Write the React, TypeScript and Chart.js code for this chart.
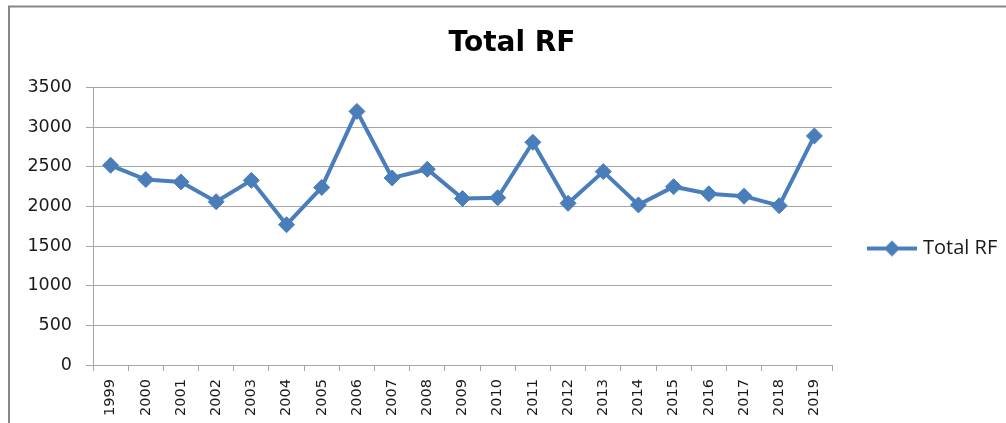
import React, { useEffect, useRef } from "react";
import { Chart, registerables } from "chart.js";

Chart.register(...registerables);

const years = ["1999","2000","2001","2002","2003","2004","2005","2006","2007","2008","2009","2010","2011","2012","2013","2014","2015","2016","2017","2018","2019"];
const totalRF = [2520,2340,2310,2060,2330,1770,2240,3200,2360,2470,2100,2110,2810,2040,2440,2020,2250,2160,2130,2010,2890];
const seriesName = "Total RF";
const chartTitle = "Total RF";
const yMin = 0;
const yMax = 3500;
const yStep = 500;

const LINE_COLOR = "#4A7EBB";
const GRID_COLOR = "#A6A6A6";

function makeLegendIcon(): HTMLCanvasElement {
  const c = document.createElement("canvas");
  c.width = 50;
  c.height = 20;
  const ctx = c.getContext("2d")!;
  ctx.strokeStyle = LINE_COLOR;
  ctx.lineWidth = 4;
  ctx.beginPath();
  ctx.moveTo(0, 10);
  ctx.lineTo(50, 10);
  ctx.stroke();
  ctx.fillStyle = LINE_COLOR;
  ctx.beginPath();
  ctx.moveTo(25 - 8, 10);
  ctx.lineTo(25, 2);
  ctx.lineTo(25 + 8, 10);
  ctx.lineTo(25, 18);
  ctx.closePath();
  ctx.fill();
  return c;
}

export default function App() {
  const ref = useRef<HTMLCanvasElement>(null);

  useEffect(() => {
    document.body.style.margin = "0";
    document.body.style.overflow = "hidden";
    const canvas = ref.current!;
    const icon = makeLegendIcon();

    const framePlugin = {
      id: "frame",
      beforeDraw(chart: any) {
        const ctx = chart.ctx;
        ctx.save();
        ctx.fillStyle = "#ffffff";
        ctx.fillRect(0, 0, chart.width, chart.height);
        ctx.strokeStyle = "#878787";
        ctx.lineWidth = 2;
        ctx.strokeRect(9, 6.5, chart.width + 20, chart.height + 20);
        ctx.restore();
      },
      beforeLayout(chart: any) {
        const leg = chart.legend;
        if (leg && !leg.__patched) {
          const orig = leg.fit.bind(leg);
          leg.fit = function () {
            orig();
            this.width = 174;
          };
          leg.__patched = true;
        }
      },
      afterLayout(chart: any) {
        const leg = chart.legend;
        if (leg) {
          leg.top += 37;
          leg.bottom += 37;
        }
        const tb = chart.titleBlock;
        if (tb) {
          tb.left += 9;
          tb.right += 9;
        }
      },
    };

    const chart = new Chart(canvas, {
      type: "line",
      data: {
        labels: years,
        datasets: [
          {
            label: seriesName,
            data: totalRF,
            borderColor: LINE_COLOR,
            backgroundColor: LINE_COLOR,
            borderWidth: 4,
            pointStyle: "rectRot",
            pointRadius: 8,
            pointBorderWidth: 1,
            pointBackgroundColor: LINE_COLOR,
            pointBorderColor: LINE_COLOR,
            tension: 0,
          },
        ],
      },
      options: {
        responsive: false,
        animation: false,
        layout: { padding: 0 },
        plugins: {
          title: {
            display: true,
            text: chartTitle,
            color: "#000000",
            font: { family: "'DejaVu Sans', sans-serif", size: 28, weight: "bold" },
            padding: { top: 27, bottom: 27 },
          },
          legend: {
            display: true,
            position: "right",
            labels: {
              usePointStyle: true,
              pointStyle: icon as any,
              pointStyleWidth: 42,
              padding: 39,
              color: "#1a1a1a",
              font: { family: "'Open Sans', sans-serif", size: 20 },
            },
          },
          tooltip: { enabled: false },
        },
        scales: {
          x: {
            offset: true,
            grid: {
              display: true,
              drawOnChartArea: false,
              drawTicks: true,
              tickLength: 6,
              offset: true,
              color: GRID_COLOR,
            },
            border: { display: true, color: GRID_COLOR, width: 1 },
            ticks: {
              autoSkip: false,
              minRotation: 90,
              maxRotation: 90,
              padding: 8,
              color: "#1a1a1a",
              font: { family: "'DejaVu Sans', sans-serif", size: 14.5 },
            },
            afterFit(scale: any) {
              scale.height = 58;
            },
          },
          y: {
            min: yMin,
            max: yMax,
            ticks: {
              stepSize: yStep,
              padding: 14,
              color: "#1a1a1a",
              font: { family: "'DejaVu Sans', sans-serif", size: 17.5 },
              callback: (v: any) => String(v),
            },
            grid: {
              color: GRID_COLOR,
              tickLength: 7,
              drawTicks: true,
            },
            border: { display: true, color: GRID_COLOR, width: 1 },
            afterFit(scale: any) {
              scale.width = 93;
            },
          },
        },
      },
      plugins: [framePlugin],
    } as any);

    return () => chart.destroy();
  }, []);

  return <canvas ref={ref} width={1006} height={423} style={{ display: "block" }} />;
}
